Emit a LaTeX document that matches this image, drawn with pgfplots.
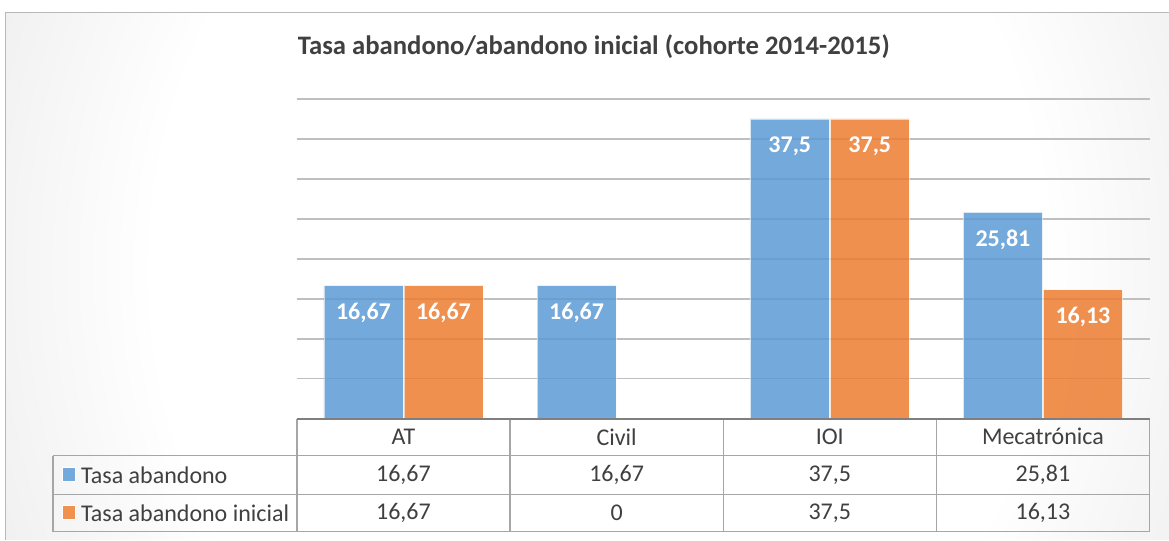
\documentclass[border=0pt]{standalone}
\usepackage{pgfplots}
\pgfplotsset{compat=1.18}
\usepackage{fontspec}
\setmainfont{Carlito}
\definecolor{cblue}{HTML}{5B9BD5}
\definecolor{corange}{HTML}{ED7D31}
\definecolor{ctext}{HTML}{404040}
\definecolor{cgrid}{HTML}{BFBFBF}
\definecolor{ctab}{HTML}{A6A6A6}
\definecolor{caxis}{HTML}{7F7F7F}
\definecolor{cedge}{HTML}{C4C4C4}
\pgfdeclareradialshading{chartbg}{\pgfpoint{0bp}{0bp}}{color(0bp)=(white); color(18bp)=(white); color(50bp)=(cedge)}
\begin{document}
\begin{tikzpicture}[x=1pt,y=1pt]
\fill[white] (0,0) rectangle (1169,540);
\begin{scope}
\clip (6,0) rectangle (1169,527);
\shade[shading=chartbg] (-20,-430) rectangle (1220,970);
\end{scope}
\draw[ctab!80, line width=1pt] (6,0)--(6,527)--(1169,527);
\node[font=\fontsize{26.7}{32}\selectfont\bfseries, text=ctext] at (594,493) {Tasa abandono/abandono inicial (cohorte 2014-2015)};
\begin{axis}[
  at={(297pt,121pt)}, anchor=south west,
  width=853pt, height=320pt, scale only axis,
  xmin=-0.5, xmax=3.5, ymin=0, ymax=40,
  ytick={5,10,...,40}, yticklabels={},
  xtick=\empty,
  ymajorgrids, grid style={cgrid, line width=1.3pt},
  major tick length=0pt,
  axis line style={draw=none},
  ybar=1pt, bar width=79pt,
  /pgf/number format/.cd, use comma, assume math mode=true, precision=2,
  /pgfplots/.cd,
  nodes near coords,
  every node near coord/.append style={anchor=center, yshift=-27pt, text=white, font=\fontsize{24}{28}\selectfont\bfseries},
  clip=false,
]
\addplot[fill=cblue, fill opacity=0.85, draw=white, draw opacity=0.6, line width=0.8pt, text opacity=1] coordinates {(0,16.67) (1,16.67) (2,37.5) (3,25.81)};
\addplot[fill=corange, fill opacity=0.85, draw=white, draw opacity=0.6, line width=0.8pt, text opacity=1] coordinates {(0,16.67) (2,37.5) (3,16.13)};
\end{axis}
% data table
\draw[ctab, line width=1.3pt] (53,84)--(1150,84) (53,45)--(1150,45) (53,8)--(1150,8);
\draw[ctab, line width=1.3pt] (53,84)--(53,8);
\foreach \x in {297,510.25,723.5,936.75,1150} {\draw[ctab, line width=1.3pt] (\x,121)--(\x,8);}
\draw[caxis, line width=2pt] (297,121)--(1150,121);
\begin{scope}[every node/.style={font=\fontsize{24}{28}\selectfont, text=ctext}]
\node at (403.6,103) {AT};
\node at (616.9,103) {Civil};
\node at (830.1,103) {IOI};
\node at (1043.4,103) {Mecatrónica};
\node at (403.6,65) {16,67};
\node at (616.9,65) {16,67};
\node at (830.1,65) {37,5};
\node at (1043.4,65) {25,81};
\node at (403.6,27) {16,67};
\node at (616.9,27) {0};
\node at (830.1,27) {37,5};
\node at (1043.4,27) {16,13};
\node[anchor=west, inner sep=0pt] at (81,65) {Tasa abandono};
\node[anchor=west, inner sep=0pt] at (81,27) {Tasa abandono inicial};
\end{scope}
\fill[cblue!85, draw=white, line width=0.5pt] (62,59) rectangle (75,73);
\fill[corange!85, draw=white, line width=0.5pt] (62,21) rectangle (75,35);
\end{tikzpicture}
\end{document}
